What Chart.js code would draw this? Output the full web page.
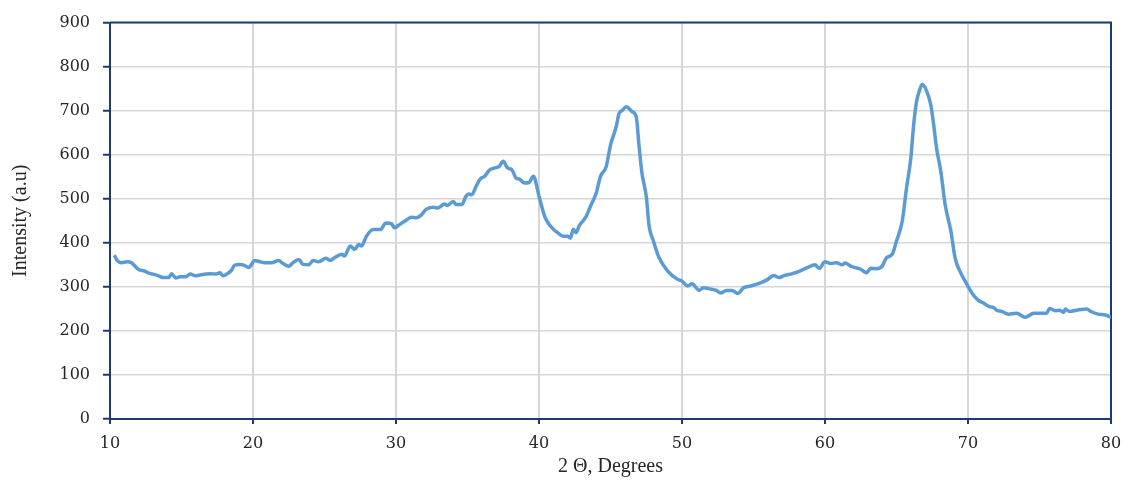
<!DOCTYPE html>
<html>
<head>
<meta charset="utf-8">
<script src="https://cdn.jsdelivr.net/npm/chart.js@4.4.1/dist/chart.umd.min.js"></script>
<style>
  html, body { margin: 0; padding: 0; background: #ffffff; }
  #wrap { width: 1122px; height: 480px; }
</style>
</head>
<body>
<div id="wrap"><canvas id="xrd" width="1122" height="480"></canvas></div>
<script>
// XRD pattern: diffraction angle (2θ, degrees) and measured intensity (a.u.)
const twoTheta = [
  10.3, 10.5, 10.8, 11.2, 11.5, 11.9, 12.1, 12.4, 12.7, 13.0,
  13.4, 13.7, 14.1, 14.3, 14.6, 14.9, 15.3, 15.6, 16.0, 16.3,
  16.7, 17.0, 17.4, 17.7, 17.9, 18.3, 18.5, 18.7, 19.1, 19.4,
  19.7, 19.9, 20.1, 20.5, 20.8, 21.3, 21.8, 22.1, 22.5, 22.8,
  23.2, 23.5, 23.9, 24.2, 24.6, 25.1, 25.4, 25.7, 26.2, 26.4,
  26.8, 27.1, 27.4, 27.6, 27.9, 28.4, 28.9, 29.3, 29.7, 29.9,
  30.1, 30.6, 31.1, 31.4, 31.8, 32.1, 32.6, 32.9, 33.4, 33.6,
  34.0, 34.2, 34.6, 34.9, 35.1, 35.3, 35.6, 35.9, 36.2, 36.5,
  36.9, 37.2, 37.5, 37.8, 38.1, 38.4, 38.6, 39.0, 39.3, 39.6,
  39.7, 40.0, 40.4, 40.7, 41.0, 41.3, 41.7, 42.0, 42.2, 42.4,
  42.6, 42.8, 43.3, 43.6, 44.0, 44.3, 44.7, 45.0, 45.4, 45.6,
  45.8, 46.1, 46.3, 46.5, 46.8, 47.0, 47.2, 47.5, 47.7, 48.0,
  48.4, 49.0, 49.7, 50.0, 50.4, 50.7, 51.2, 51.5, 52.0, 52.4,
  52.7, 53.1, 53.5, 53.9, 54.3, 54.8, 55.4, 56.0, 56.4, 56.8,
  57.1, 57.6, 58.1, 58.5, 59.0, 59.3, 59.6, 60.0, 60.4, 60.8,
  61.2, 61.4, 61.8, 62.1, 62.5, 62.9, 63.2, 63.6, 64.0, 64.3,
  64.7, 65.0, 65.4, 65.7, 66.0, 66.2, 66.4, 66.6, 66.8, 67.1,
  67.4, 67.6, 67.8, 68.1, 68.4, 68.8, 69.1, 69.4, 69.8, 70.3,
  70.7, 71.1, 71.5, 71.8, 72.0, 72.4, 72.8, 73.4, 74.0, 74.6,
  75.2, 75.5, 75.7, 76.1, 76.4, 76.7, 76.8, 77.1, 77.6, 78.3,
  78.6, 79.1, 79.6, 80.0
];
const intensity = [
  372, 360, 355, 357, 355, 342, 338, 336, 331, 329,
  325, 321, 321, 330, 320, 323, 323, 329, 325, 327,
  329, 330, 329, 332, 325, 332, 338, 349, 351, 349,
  344, 351, 360, 357, 355, 355, 360, 353, 347, 355,
  362, 351, 350, 360, 357, 365, 360, 366, 374, 370,
  393, 385, 396, 393, 413, 430, 430, 445, 443, 434,
  438, 449, 458, 457, 464, 476, 481, 479, 488, 485,
  494, 487, 487, 506, 511, 509, 528, 545, 551, 564,
  570, 573, 585, 570, 566, 547, 545, 536, 537, 551,
  547, 506, 460, 442, 431, 423, 415, 415, 411, 431,
  423, 438, 460, 483, 513, 551, 573, 622, 664, 694,
  700, 709, 705, 698, 686, 619, 558, 506, 438, 404,
  366, 336, 317, 313, 302, 307, 292, 298, 295, 292,
  286, 292, 292, 285, 298, 302, 308, 317, 326, 321,
  325, 329, 334, 340, 347, 350, 342, 357, 353, 355,
  350, 354, 347, 344, 340, 332, 342, 341, 347, 366,
  374, 404, 449, 524, 592, 668, 720, 745, 760, 745,
  713, 668, 615, 562, 487, 427, 365, 338, 313, 285,
  270, 263, 255, 253, 247, 244, 238, 240, 231, 240,
  240, 240, 251, 246, 247, 242, 250, 244, 247, 250,
  244, 238, 236, 231
];

// Axis ranges and tick spacing
const xRange = [10, 80];
const xStep = 10;
const yRange = [0, 900];
const yStep = 100;

const points = twoTheta.map((t, i) => ({ x: t, y: intensity[i] }));

const navy = '#1b3a78';
const gridGray = '#d6d6d6';
const textColor = '#262626';

// Closes the plot frame on the top and right sides
const frame = {
  id: 'frame',
  beforeDatasetsDraw(chart) {
    const { ctx, chartArea: a } = chart;
    ctx.save();
    ctx.strokeStyle = navy;
    ctx.lineWidth = 2;
    ctx.beginPath();
    ctx.moveTo(a.left, a.top);
    ctx.lineTo(a.right, a.top);
    ctx.lineTo(a.right, a.bottom);
    ctx.stroke();
    ctx.restore();
  }
};

new Chart(document.getElementById('xrd'), {
  type: 'line',
  data: {
    datasets: [{
      data: points,
      borderColor: '#5b9bd5',
      borderWidth: 3.5,
      pointRadius: 0,
      fill: false,
      tension: 0.25,
      cubicInterpolationMode: 'monotone'
    }]
  },
  options: {
    responsive: false,
    devicePixelRatio: 1,
    animation: false,
    layout: { padding: { top: 21, right: 0, left: 0, bottom: 0 } },
    plugins: { legend: { display: false }, tooltip: { enabled: false } },
    scales: {
      x: {
        type: 'linear',
        min: xRange[0],
        max: xRange[1],
        afterFit(scale) {
          scale.height = 61;
          scale.paddingRight = 11;
        },
        border: { color: navy, width: 2 },
        grid: { color: gridGray, lineWidth: 2, tickColor: navy, tickLength: 5, tickWidth: 2 },
        ticks: {
          stepSize: xStep,
          padding: 10,
          maxRotation: 0,
          color: textColor,
          font: { family: 'DejaVu Serif', size: 16 }
        },
        title: {
          display: true,
          text: '2 Θ, Degrees',
          color: textColor,
          padding: { top: 0, bottom: 1 },
          font: { family: 'Liberation Serif', size: 20 }
        }
      },
      y: {
        min: yRange[0],
        max: yRange[1],
        afterFit(scale) { scale.width = 110; },
        border: { color: navy, width: 2 },
        grid: { color: gridGray, lineWidth: 1.5, tickColor: navy, tickLength: 7, tickWidth: 2 },
        ticks: {
          stepSize: yStep,
          padding: 13,
          color: textColor,
          font: { family: 'DejaVu Serif', size: 16 }
        },
        title: {
          display: true,
          text: 'Intensity (a.u)',
          color: textColor,
          padding: { top: 9, bottom: 0 },
          font: { family: 'Liberation Serif', size: 20 }
        }
      }
    }
  },
  plugins: [frame]
});
</script>
</body>
</html>
